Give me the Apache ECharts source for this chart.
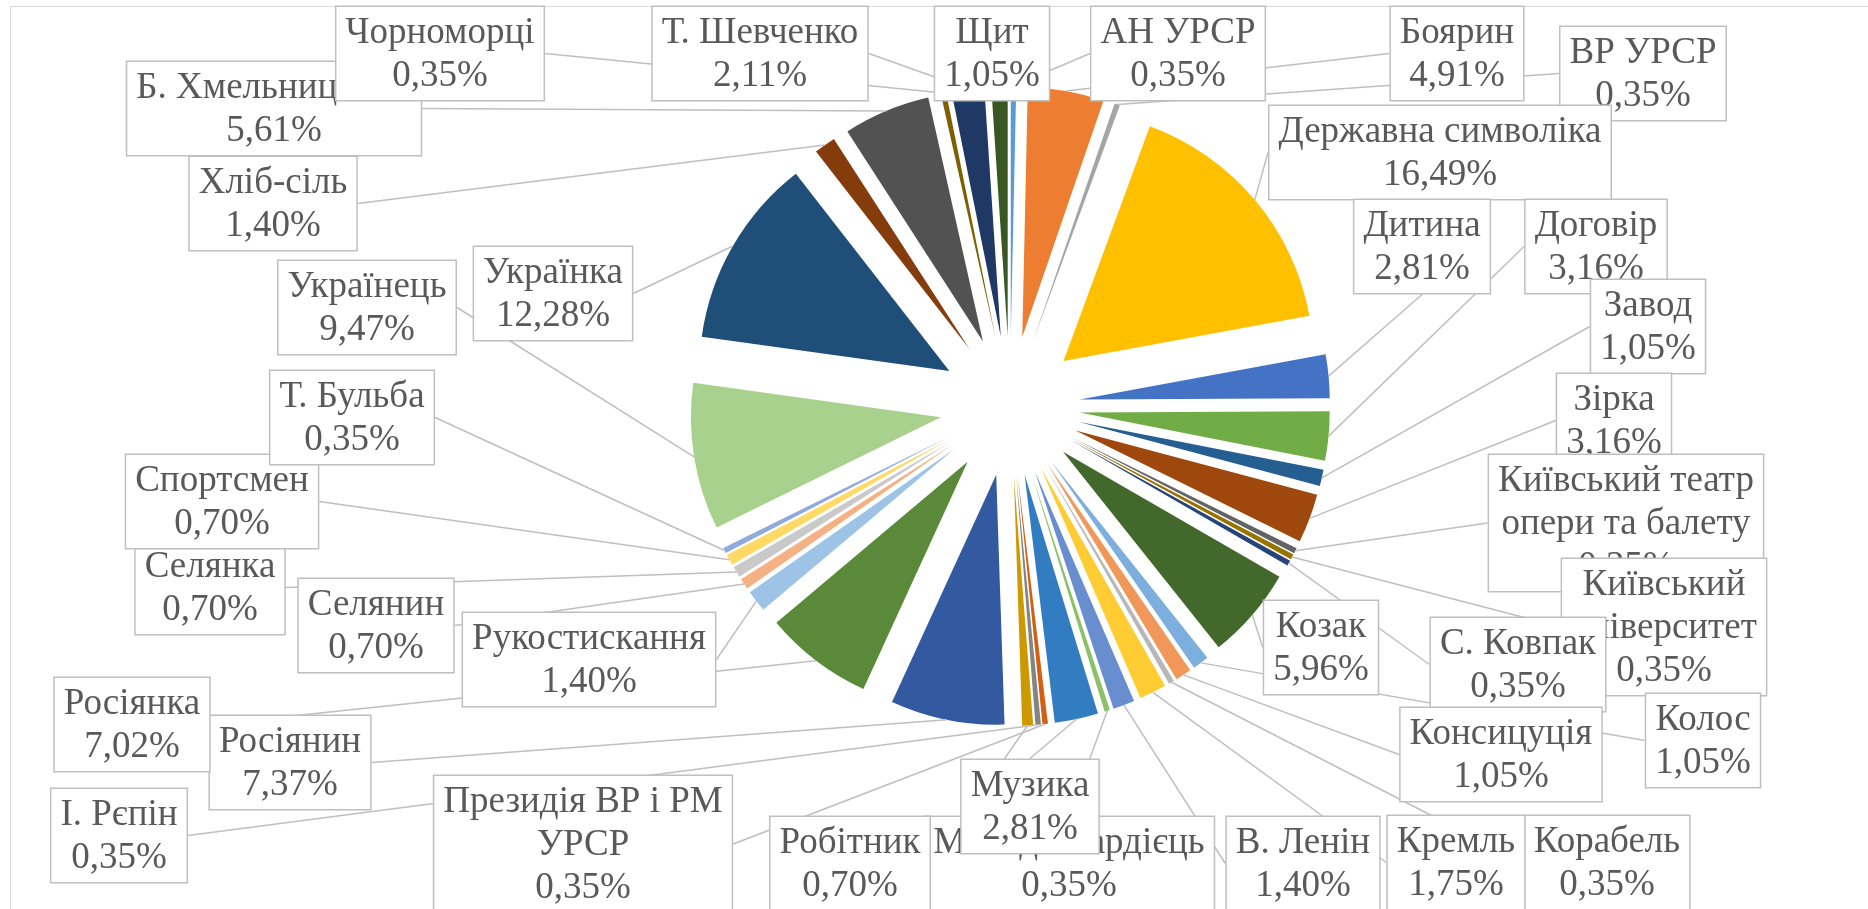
<!DOCTYPE html>
<html><head><meta charset="utf-8">
<script src="https://cdn.jsdelivr.net/npm/echarts@6/dist/echarts.min.js"></script>
<style>html,body{margin:0;padding:0;background:#fff}#c{width:1868px;height:909px}</style>
</head><body><div id="c"></div>
<script>
const categories = ['АН УРСР','Боярин','ВР УРСР','Державна символіка','Дитина','Договір','Завод','Зірка',
  'Київський театр опери та балету','Київський університет','С. Ковпак','Козак','Колос','Консицуція','Корабель',
  'Кремль','В. Ленін','Молодогвардієць','Музика','Президія ВР і РМ УРСР','І. Рєпін','Робітник','Росіянин',
  'Росіянка','Рукостискання','Селянин','Селянка','Спортсмен','Т. Бульба','Українець','Українка','Хліб-сіль',
  'Б. Хмельницький','Чорноморці','Т. Шевченко','Щит'];
const shares = [0.35,4.91,0.35,16.49,2.81,3.16,1.05,3.16,0.35,0.35,0.35,5.96,1.05,1.05,0.35,1.75,1.40,0.35,2.81,
  0.35,0.35,0.70,7.37,7.02,1.40,0.70,0.70,0.70,0.35,9.47,12.28,1.40,5.61,0.35,2.11,1.05];
const wrappedNames = {
  'Київський театр опери та балету':'Київський театр\nопери та балету',
  'Київський університет':'Київський\nуніверситет',
  'Президія ВР і РМ УРСР':'Президія ВР і РМ\nУРСР'
};
const palette = ['#5B9BD5','#ED7D31','#A5A5A5','#FFC000','#4472C4','#70AD47',
  '#255E91','#9E480E','#636363','#997300','#264478','#43682B',
  '#7CAFDD','#F1975A','#B7B7B7','#FFCD33','#698ED0','#8CC168',
  '#327DC2','#D25F12','#848484','#CC9A00','#335AA1','#5A8A39',
  '#9DC3E6','#F4B183','#C9C9C9','#FFD966','#8FAADC','#A9D18E',
  '#1F4E79','#843C0C','#525252','#7F6000','#203864','#385723'];
// label box layout (center x, top y)
const labelCenterX = [1178,1457,1643,1440,1422,1596,1648,1614,1626,1664,1518,1321,1703,1501,1607,1456,1303,1069,1030,
  583,119,850,290,132,589,376,210,222,352,367,553,273,274,440,760,992];
const labelTop = [7,7,27,106,200,200,280,374,455,559,618,601,694,708,816,816,817,817,760,
  776,789,817,716,678,613,579,541,455,371,261,247,157,62,7,7,7];

const PIE_CENTER = [1010, 406], PIE_R = 250, EXPLODE = 70;

const chart = echarts.init(document.getElementById('c'));
chart.setOption({
  animation: false,
  color: palette,
  graphic: [{type:'rect', silent:true, z:-10,
    shape:{x:10.5, y:6.5, width:1900, height:1000},
    style:{fill:'none', stroke:'#D9D9D9', lineWidth:1}}],
  series: [{
    type: 'pie',
    center: PIE_CENTER,
    radius: PIE_R,
    startAngle: 90,
    clockwise: true,
    selectedMode: 'multiple',
    selectedOffset: EXPLODE,
    silent: true,
    data: categories.map((n, i) => ({name: n, value: shares[i], selected: true})),
    itemStyle: {borderWidth: 0},
    label: {show: false},
    labelLine: {show: false},
    emphasis: {disabled: true},
    select: {itemStyle: {borderWidth: 0}}
  }, {
    type: 'pie',
    center: PIE_CENTER,
    radius: PIE_R + EXPLODE,
    startAngle: 90,
    clockwise: true,
    silent: true,
    avoidLabelOverlap: false,
    minShowLabelAngle: 0,
    z: 3,
    data: categories.map((n, i) => ({name: n, value: shares[i]})),
    itemStyle: {color: 'rgba(0,0,0,0)', borderWidth: 0},
    label: {
      show: true, position: 'outside',
      formatter: p => (wrappedNames[p.name] || p.name) + '\n' + p.value.toFixed(2).replace('.', ',') + '%',
      fontFamily: 'Liberation Serif', fontSize: 37, lineHeight: 43, color: '#595959',
      backgroundColor: '#fff', borderColor: '#BFBFBF', borderWidth: 1.5,
      padding: [5, 9, 2, 9], align: 'center'
    },
    labelLine: {show: true, length: 10, length2: 0, lineStyle: {color: '#BFBFBF', width: 1.5}},
    labelLayout: p => ({x: labelCenterX[p.dataIndex], y: labelTop[p.dataIndex], align: 'center', verticalAlign: 'top'}),
    emphasis: {disabled: true}
  }]
});
</script></body></html>
